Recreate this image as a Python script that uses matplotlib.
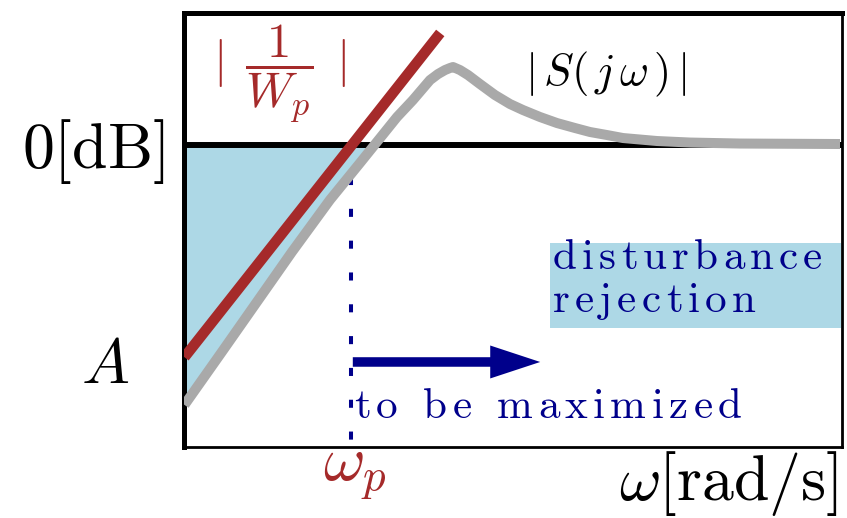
import matplotlib
matplotlib.use("Agg")
import matplotlib.pyplot as plt
import numpy as np
from matplotlib import font_manager
from matplotlib.ft2font import FT2Font
from matplotlib.transforms import offset_copy
from matplotlib.patches import Rectangle

plt.rcParams['mathtext.fontset'] = 'cm'

BROWN = '#A52A2A'
GREY = '#A9A9A9'
LBLUE = '#ADD8E6'
NAVY = '#00008B'

# frequency axis normalised to 0..10, magnitude axis with 0 dB at y = 0
# performance weight |1/Wp| (straight line)
wp_w = [0.0, 3.89]
wp_mag = [-4.89, 2.59]

# sensitivity |S(jw)|
s_w = [0.0, 0.586, 1.224, 1.635, 2.213, 2.669, 3.232, 3.475, 3.734, 3.856,
       3.962, 4.038, 4.084, 4.190, 4.312, 4.494, 4.722, 4.951, 5.148, 5.407,
       5.665, 5.939, 6.167, 6.426, 6.669, 7.186, 7.688, 8.449, 9.97]
s_mag = [-5.99, -4.73, -3.35, -2.46, -1.26, -0.41, 0.65, 1.043, 1.503, 1.642,
         1.734, 1.781, 1.804, 1.734, 1.619, 1.411, 1.158, 0.950, 0.812, 0.651,
         0.512, 0.397, 0.305, 0.235, 0.166, 0.097, 0.062, 0.039, 0.028]

w_p = 2.54          # bandwidth, where |1/Wp| crosses 0 dB
arrow_x = [2.56, 5.41]
arrow_y = -5.0

cmr_path = font_manager.findfont(font_manager.FontProperties(family='cmr10'))


def tracked(ax, x, y, s, size, track, **kw):
    # write s letter by letter with extra spacing (track, in points)
    ft = FT2Font(cmr_path, hinting_factor=1)
    ft.set_size(size, 72)
    dx = 0.0
    for ch in s:
        if ch == ' ':
            dx += 0.333 * size + track
            continue
        tr = offset_copy(ax.transData, fig=ax.figure, x=dx, y=0, units='points')
        ax.text(x, y, ch, transform=tr, fontsize=size, family='cmr10',
                va='baseline', ha='left', **kw)
        dx += ft.load_char(ord(ch)).linearHoriAdvance / 65536 + track


fig = plt.figure(figsize=(8.47, 5.18), dpi=100)
ax = fig.add_axes([0.2178, 0.1380, 0.7763, 0.8369])
ax.set_xlim(0, 10)
ax.set_ylim(-6.95, 3.05)
ax.set_xticks([])
ax.set_yticks([])
for side in ['left', 'top']:
    ax.spines[side].set_linewidth(3.6)
for side in ['right', 'bottom']:
    ax.spines[side].set_linewidth(2.0)

s = np.array(s_mag)
ax.fill_between(s_w, s, 0, where=s <= 0, interpolate=True, color=LBLUE, lw=0, zorder=1)
ax.axhline(0, color='black', lw=4.3, zorder=2)
ax.plot([w_p, w_p], [-0.73, -6.95], color=NAVY, lw=2.9,
        linestyle=(0, (2, 5.9)), dash_capstyle='butt', zorder=3)
ax.plot(s_w, s_mag, color=GREY, lw=7.2, solid_capstyle='butt',
        solid_joinstyle='round', zorder=4)
ax.plot(wp_w, wp_mag, color=BROWN, lw=7.6, solid_capstyle='butt', zorder=5)

ax.arrow(arrow_x[0], arrow_y, arrow_x[1] - arrow_x[0], 0, width=0.22,
         head_width=0.76, head_length=0.76, length_includes_head=True,
         color=NAVY, lw=0, zorder=6)

# labels
ax.text(-0.30, -0.53, r'$0[\mathrm{dB}]$', fontsize=46, ha='right', va='baseline')
ax.text(-1.21, -5.49, r'$A$', fontsize=46, ha='center', va='baseline')
ax.text(2.59, -7.75, r'$\omega_p$', fontsize=46, color=BROWN, ha='center', va='baseline')
ax.text(9.94, -8.18, r'$\omega[\mathrm{rad/s}]$', fontsize=46, ha='right', va='baseline')
ax.text(1.44, 1.64, r'$|\;\,\dfrac{1}{W_p}\;\,|$', fontsize=35, color=BROWN,
        ha='center', va='center')
ax.text(6.40, 1.64, r'$|\,S(\,j\,\omega\,)\,|$', fontsize=32, ha='center', va='center')

ax.add_patch(Rectangle((5.56, -4.22), 4.42, 1.96, color=LBLUE, lw=0, zorder=6))
tracked(ax, 5.60, -2.86, 'disturbance', 31, 3.7, color=NAVY, zorder=7)
tracked(ax, 5.60, -3.85, 'rejection', 31, 3.7, color=NAVY, zorder=7)
tracked(ax, 2.58, -6.29, 'to be maximized', 31, 3.9, color=NAVY, zorder=7)

fig.savefig('out.png', dpi=100)
